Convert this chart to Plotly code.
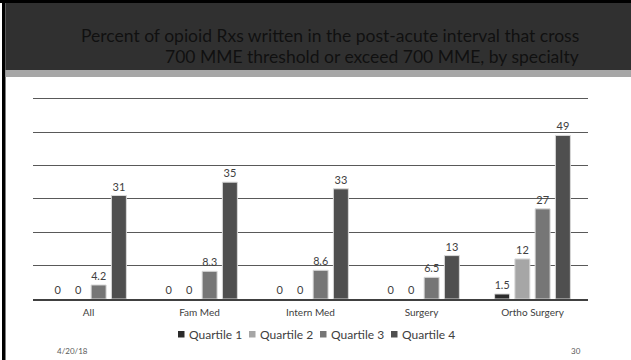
import plotly.graph_objects as go

# Specialties and percent of post-acute Rxs crossing/exceeding 700 MME
categories = ["All", "Fam Med", "Intern Med", "Surgery", "Ortho Surgery"]
series_names = ["Quartile 1", "Quartile 2", "Quartile 3", "Quartile 4"]
quartile_1 = [0, 0, 0, 0, 1.5]
quartile_2 = [0, 0, 0, 0, 12]
quartile_3 = [4.2, 8.3, 8.6, 6.5, 27]
quartile_4 = [31, 35, 33, 13, 49]
series_values = [quartile_1, quartile_2, quartile_3, quartile_4]
colors = ["#2b2b2b", "#a6a6a6", "#767676", "#4f4f4f"]

title_lines = [
    "Percent of opioid Rxs written in the post-acute interval that cross",
    "700 MME threshold or exceed 700 MME, by specialty",
]
footer_date = "4/20/18"
footer_page = "30"

W, H = 631, 360
ML, MR, MT, MB = 33, 43, 92, 61
PW, PH = W - ML - MR, H - MT - MB
FONT = "Lato, 'Open Sans', sans-serif"


def px_x(x):
    return (x - ML) / PW


def px_y(y):
    return (H - MB - y) / PH


fig = go.Figure()
for name, vals, col in zip(series_names, series_values, colors):
    fig.add_trace(go.Bar(
        x=categories, y=vals, name=name,
        marker=dict(color=col,
                    line=dict(color="#d9d9d9", width=[1 if v > 0 else 0 for v in vals])),
        text=[f"{v:g}" for v in vals], textposition="outside",
        textfont=dict(size=11, color="#404040", family=FONT),
        cliponaxis=False, showlegend=False,
    ))

shapes = [
    # top black rule and left black border
    dict(type="rect", xref="paper", yref="paper", x0=px_x(0), x1=px_x(W),
         y0=px_y(3), y1=px_y(0), fillcolor="#000000", line_width=0, layer="above"),
    dict(type="rect", xref="paper", yref="paper", x0=px_x(2), x1=px_x(5.5),
         y0=px_y(H), y1=px_y(0), fillcolor="#000000", line_width=0, layer="above"),
    # header band
    dict(type="rect", xref="paper", yref="paper", x0=px_x(5.5), x1=px_x(W),
         y0=px_y(70), y1=px_y(3), fillcolor="#303030", line_width=0, layer="above"),
    dict(type="rect", xref="paper", yref="paper", x0=px_x(5.5), x1=px_x(W),
         y0=px_y(77), y1=px_y(70), fillcolor="#a6a6a6", line_width=0, layer="above"),
]

annotations = [
    dict(text=title_lines[0], xref="paper", yref="paper", x=px_x(581), y=px_y(35),
         xanchor="right", yanchor="middle", showarrow=False,
         font=dict(size=17.5, color="#101010", family=FONT)),
    dict(text=title_lines[1], xref="paper", yref="paper", x=px_x(581), y=px_y(57),
         xanchor="right", yanchor="middle", showarrow=False,
         font=dict(size=17.5, color="#101010", family=FONT)),
    dict(text=footer_date, xref="paper", yref="paper", x=px_x(55), y=px_y(351),
         xanchor="left", yanchor="middle", showarrow=False,
         font=dict(size=8, color="#595959", family=FONT)),
    dict(text=footer_page, xref="paper", yref="paper", x=px_x(583), y=px_y(351),
         xanchor="right", yanchor="middle", showarrow=False,
         font=dict(size=8, color="#595959", family=FONT)),
]

# legend drawn as swatches + labels
leg_x0, leg_step, leg_y = 178, 71, 334
for i, (name, col) in enumerate(zip(series_names, colors)):
    sx = leg_x0 + i * leg_step
    shapes.append(dict(type="rect", xref="paper", yref="paper",
                       x0=px_x(sx), x1=px_x(sx + 6.5),
                       y0=px_y(leg_y + 3.5), y1=px_y(leg_y - 3),
                       fillcolor=col, line_width=0, layer="above"))
    annotations.append(dict(text=name, xref="paper", yref="paper",
                            x=px_x(sx + 8.5), y=px_y(leg_y), xanchor="left",
                            yanchor="middle", showarrow=False,
                            font=dict(size=12, color="#404040", family=FONT)))

fig.update_layout(
    width=W, height=H,
    margin=dict(l=ML, r=MR, t=MT, b=MB, pad=0),
    paper_bgcolor="white", plot_bgcolor="white",
    barmode="group", bargap=0.27, bargroupgap=0.26,
    font=dict(family=FONT, color="#404040"),
    shapes=shapes, annotations=annotations,
    xaxis=dict(showgrid=False, showline=True, linecolor="#404040", linewidth=1.5,
               ticks="outside", ticklen=3, tickcolor="rgba(0,0,0,0)",
               tickfont=dict(size=10, color="#404040", family=FONT)),
    yaxis=dict(range=[0, 62], tickvals=[10, 20, 30, 40, 50, 60], showgrid=True,
               gridcolor="#595959", gridwidth=1.2, showticklabels=False,
               zeroline=False, showline=False),
)

fig.write_html("out.html")
